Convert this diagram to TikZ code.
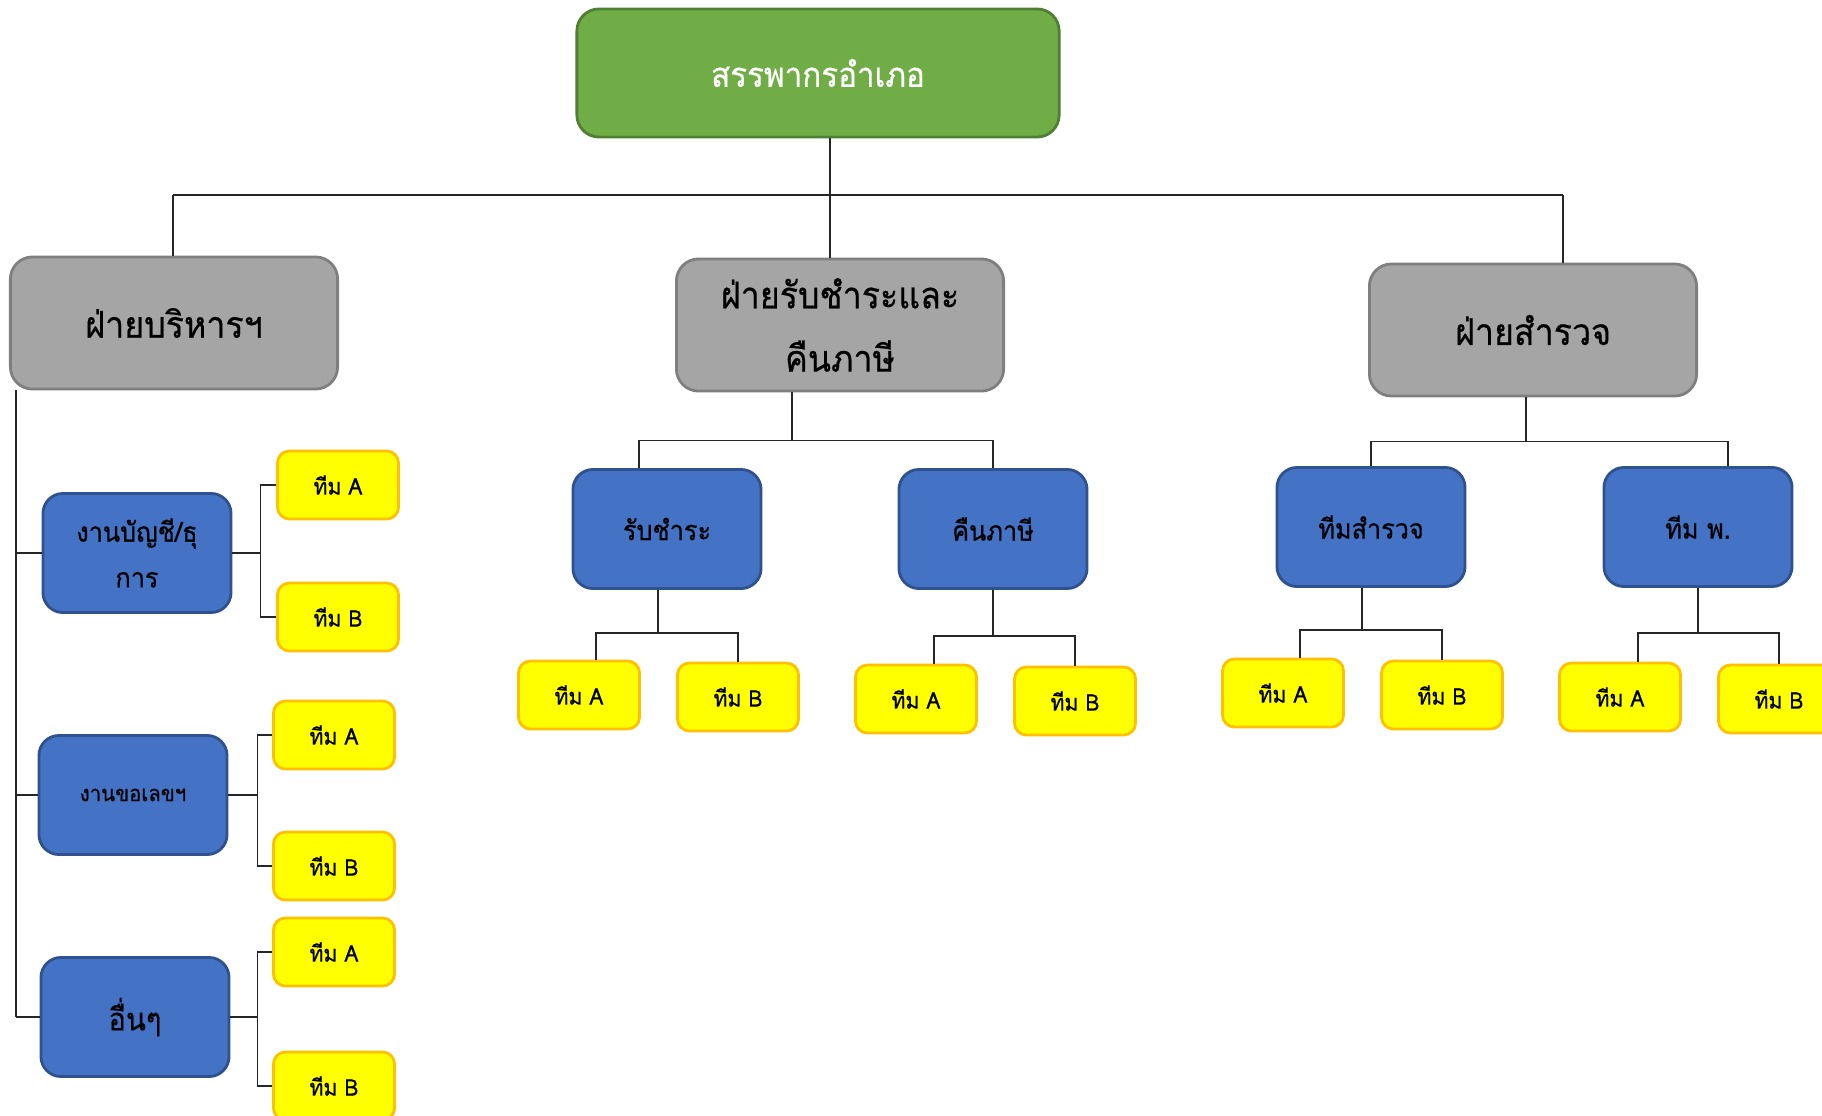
\documentclass[tikz,border=0pt]{standalone}
\usepackage{fontspec}
\newfontfamily\thaifont[Script=Thai, FakeStretch=0.92, FakeBold=0.5]{Loma}
\usetikzlibrary{positioning, calc}

\definecolor{headgreen}{HTML}{70AD47}
\definecolor{headline}{HTML}{507E32}
\definecolor{deptgray}{HTML}{A5A5A5}
\definecolor{deptline}{HTML}{7F7F7F}
\definecolor{unitblue}{HTML}{4472C4}
\definecolor{unitline}{HTML}{2F528F}
\definecolor{teamfill}{HTML}{FFFF00}
\definecolor{teamline}{HTML}{FFC000}

\begin{document}
\begin{tikzpicture}[
    x=0.01cm, y=-0.01cm,
    head/.style={rectangle, rounded corners=0.22cm, draw=headline, line width=0.8pt, fill=headgreen, text=white, minimum width=4.82cm, minimum height=1.28cm, font=\thaifont\fontsize{9.7}{12}\selectfont},
    dept/.style={rectangle, rounded corners=0.22cm, draw=deptline, line width=0.8pt, fill=deptgray, minimum width=3.27cm, minimum height=1.32cm, align=center, font=\thaifont\fontsize{10.5}{18}\selectfont},
    unit/.style={rectangle, rounded corners=0.2cm, draw=unitline, line width=0.8pt, fill=unitblue, minimum width=1.88cm, minimum height=1.19cm, align=center, font=\thaifont\fontsize{7.8}{13}\selectfont},
    team/.style={rectangle, rounded corners=0.12cm, draw=teamline, line width=0.8pt, fill=teamfill, minimum width=1.21cm, minimum height=0.68cm, font=\thaifont\fontsize{6.5}{8}\selectfont},
    link/.style={draw=black!85, line width=0.45pt}
]
    \clip (0,0) rectangle (1822,1115);

    % Head and departments
    \node[head] (top) at (818,73) {สรรพากรอำเภอ};
    \node[dept] (admin) at (174,323) {\raisebox{-3pt}{ฝ่ายบริหารฯ}};
    \node[dept] (payref) at (840,325) {\raisebox{-4pt}{ฝ่ายรับชำระและ}\\\raisebox{-4pt}{คืนภาษี}};
    \node[dept] (survey) at (1533,330) {\raisebox{-3pt}{ฝ่ายสำรวจ}};

    % Admin units
    \node[unit] (acct) at (137,553) {งานบัญชี/ธุ\\การ};
    \node[unit, font=\thaifont\fontsize{6.3}{8}\selectfont] (reg) at (133,795) {งานขอเลขฯ};
    \node[unit, font=\thaifont\fontsize{9}{11}\selectfont] (other) at (135,1017) {อื่นๆ};
    \node[team] (acctA) at (338,485) {ทีม A};
    \node[team] (acctB) at (338,617) {ทีม B};
    \node[team] (regA) at (334,735) {ทีม A};
    \node[team] (regB) at (334,866) {ทีม B};
    \node[team] (otherA) at (334,952) {ทีม A};
    \node[team] (otherB) at (334,1086) {ทีม B};

    % Payment / refund units
    \node[unit] (recv) at (667,529) {รับชำระ};
    \node[unit] (refund) at (993,529) {คืนภาษี};
    \node[team] (recvA) at (579,695) {ทีม A};
    \node[team] (recvB) at (738,697) {ทีม B};
    \node[team] (refundA) at (916,699) {ทีม A};
    \node[team] (refundB) at (1075,701) {ทีม B};

    % Survey units
    \node[unit] (teamsv) at (1371,527) {ทีมสำรวจ};
    \node[unit] (teampo) at (1698,527) {ทีม พ.};
    \node[team] (teamsvA) at (1283,693) {ทีม A};
    \node[team] (teamsvB) at (1442,695) {ทีม B};
    \node[team] (teampoA) at (1620,697) {ทีม A};
    \node[team] (teampoB) at (1779,699) {ทีม B};

    % Top level lines
    \coordinate (busL) at (173,195);
    \coordinate (busR) at (1563,195);
    \coordinate (trunk) at (830,195);
    \draw[link] (busL) -- (busR);
    \draw[link] (trunk |- top.south) -- (trunk |- payref.north);
    \draw[link] (busL) -- (busL |- admin.north);
    \draw[link] (busR) -- (busR |- survey.north);

    % Admin side
    \coordinate (spine) at (16,0);
    \draw[link] (spine |- admin.south) -- (spine |- other.west);
    \draw[link] (spine |- acct.west) -- (acct.west);
    \draw[link] (spine |- reg.west) -- (reg.west);
    \draw[link] (spine |- other.west) -- (other.west);
    \draw[link] (acct.east) -- ++(28,0) coordinate (k1);
    \draw[link] (acctA.west) -| (k1) |- (acctB.west);
    \draw[link] (reg.east) -- ++(29,0) coordinate (k2);
    \draw[link] (regA.west) -| (k2) |- (regB.west);
    \draw[link] (other.east) -- ++(27,0) coordinate (k3);
    \draw[link] (otherA.west) -| (k3) |- (otherB.west);

    % Payment / refund side
    \draw[link] ($(payref.south)+(-48,0)$) -- ++(0,48) -| ($(recv.north)+(-28,0)$);
    \draw[link] ($(payref.south)+(-48,48)$) -| (refund.north);
    \draw[link] ($(recv.south)+(-9,0)$) -- ++(0,43) -| ($(recvA.north)+(17,0)$);
    \draw[link] ($(recv.south)+(-9,43)$) -| (recvB.north);
    \draw[link] (refund.south) -- ++(0,46) -| ($(refundA.north)+(18,0)$);
    \draw[link] ($(refund.south)+(0,46)$) -| (refundB.north);

    % Survey side
    \draw[link] ($(survey.south)+(-7,0)$) -- ++(0,44) -| (teamsv.north);
    \draw[link] ($(survey.south)+(-7,44)$) -| ($(teampo.north)+(30,0)$);
    \draw[link] ($(teamsv.south)+(-9,0)$) -- ++(0,42) -| ($(teamsvA.north)+(17,0)$);
    \draw[link] ($(teamsv.south)+(-9,42)$) -| (teamsvB.north);
    \draw[link] (teampo.south) -- ++(0,45) -| ($(teampoA.north)+(18,0)$);
    \draw[link] ($(teampo.south)+(0,45)$) -| (teampoB.north);
\end{tikzpicture}
\end{document}
